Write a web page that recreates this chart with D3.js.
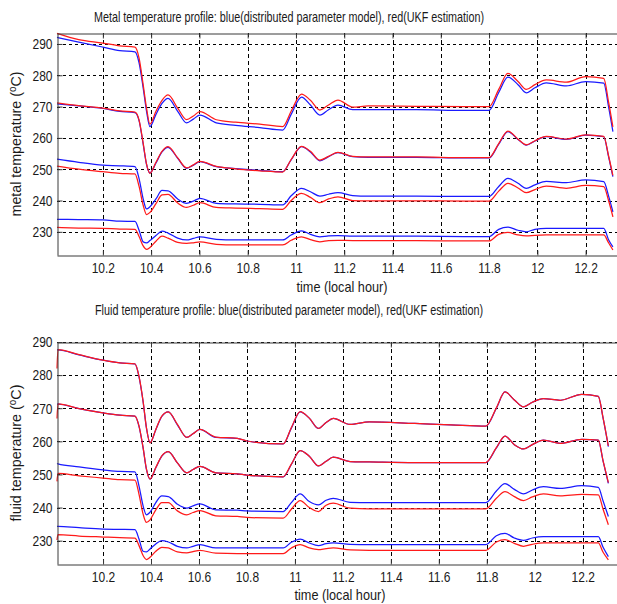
<!DOCTYPE html>
<html>
<head>
<meta charset="utf-8">
<script src="https://cdn.jsdelivr.net/npm/d3@7"></script>
<style>
  body { margin: 0; background: #fff; }
  svg { display: block; }
  text { font-family: "Liberation Sans", Arial, sans-serif; fill: #1a1a1a; }
</style>
</head>
<body>
<svg id="fig" width="617" height="604"></svg>
<script>
// ---- metal temperature profile (local hour, degC) ----
const metalTime = [10.01, 10.1, 10.2, 10.27, 10.333, 10.35, 10.367, 10.381, 10.395, 10.42, 10.445, 10.47, 10.51, 10.547, 10.575, 10.602, 10.67, 10.75, 10.85, 10.945, 10.98, 11.023, 11.06, 11.099, 11.135, 11.174, 11.235, 11.3, 11.5, 11.7, 11.8, 11.84, 11.878, 11.92, 11.954, 11.99, 12.037, 12.12, 12.2, 12.275, 12.295, 12.313];

const metalModel1 = [292.1, 290.6, 289.0, 287.9, 287.5, 284.0, 276.0, 268.5, 263.6, 267.5, 271.0, 272.6, 268.5, 264.8, 266.0, 267.3, 264.8, 264.0, 263.3, 262.5, 267.5, 273.0, 270.5, 267.3, 269.0, 270.5, 269.0, 269.0, 269.0, 268.8, 268.8, 274.5, 279.4, 277.0, 274.4, 276.0, 277.6, 276.6, 278.0, 277.5, 270.0, 262.0];
const metalUKF1   = [293.4, 291.4, 290.3, 289.4, 289.0, 285.5, 277.0, 269.5, 264.4, 268.5, 272.0, 273.7, 269.5, 265.8, 267.0, 268.4, 265.8, 265.0, 264.4, 263.6, 268.5, 274.0, 272.0, 268.9, 270.5, 272.1, 269.8, 270.2, 270.1, 270.0, 270.0, 275.5, 280.6, 278.0, 275.5, 277.0, 278.5, 277.8, 279.6, 279.0, 271.5, 263.5];

const metalModel2 = [270.9, 270.2, 269.4, 268.5, 268.1, 265.5, 258.0, 251.5, 248.8, 252.0, 255.5, 257.0, 253.5, 250.3, 251.3, 252.4, 250.8, 250.2, 249.6, 249.2, 253.0, 257.2, 255.5, 252.7, 254.0, 255.3, 254.0, 253.8, 253.8, 253.6, 253.6, 258.0, 262.0, 259.5, 257.7, 259.0, 260.4, 259.5, 260.9, 260.4, 254.0, 247.6];
const metalUKF2   = [271.2, 270.3, 269.5, 268.6, 268.2, 265.7, 258.3, 251.6, 248.7, 252.2, 255.7, 257.2, 253.6, 250.4, 251.4, 252.5, 250.9, 250.1, 249.5, 249.1, 253.1, 257.3, 255.7, 252.9, 254.1, 255.4, 254.1, 253.9, 253.9, 253.7, 253.7, 258.2, 262.2, 259.6, 257.8, 259.1, 260.5, 259.6, 261.0, 260.5, 254.3, 248.0];

const metalModel3 = [253.2, 252.2, 251.3, 251.1, 250.8, 247.0, 240.5, 237.3, 238.0, 240.5, 243.2, 243.1, 240.5, 239.1, 239.8, 240.7, 239.1, 238.9, 238.8, 238.6, 241.5, 243.9, 242.8, 241.4, 242.0, 242.5, 241.6, 241.4, 241.4, 241.3, 241.3, 244.5, 247.1, 245.5, 243.9, 245.0, 246.1, 245.7, 246.6, 246.0, 241.5, 236.4];
const metalUKF3   = [251.0, 250.0, 249.2, 248.7, 248.5, 244.5, 238.5, 235.5, 236.2, 239.0, 241.8, 242.0, 239.2, 237.8, 238.5, 239.3, 237.8, 237.6, 237.4, 237.2, 240.0, 242.3, 241.0, 239.3, 240.5, 241.2, 240.0, 239.9, 239.9, 239.8, 239.8, 243.0, 245.5, 244.0, 242.5, 243.5, 244.6, 243.9, 244.8, 244.4, 240.0, 234.8];

const metalModel4 = [234.0, 233.9, 233.8, 233.4, 233.3, 230.5, 226.8, 226.5, 227.2, 228.8, 230.2, 229.6, 228.0, 227.4, 227.9, 228.4, 227.6, 227.4, 227.4, 227.4, 229.0, 230.3, 229.2, 228.4, 228.7, 228.8, 228.6, 228.6, 228.6, 228.5, 228.5, 230.8, 231.5, 230.5, 230.0, 230.8, 231.1, 231.1, 231.1, 231.1, 227.5, 225.2];
const metalUKF4   = [231.4, 231.2, 231.1, 230.9, 230.8, 228.5, 225.5, 224.4, 225.0, 227.0, 228.6, 228.0, 226.6, 226.3, 226.5, 226.8, 226.0, 225.8, 225.8, 225.8, 227.3, 228.4, 227.5, 226.8, 227.2, 227.3, 227.2, 227.2, 227.2, 227.1, 227.1, 229.2, 229.8, 229.0, 228.7, 228.9, 229.0, 229.0, 229.0, 229.0, 226.5, 224.2];

// ---- fluid temperature profile (local hour, degC) ----
const fluidTime = [10.008, 10.012, 10.1, 10.2, 10.27, 10.333, 10.35, 10.367, 10.381, 10.396, 10.42, 10.445, 10.472, 10.51, 10.549, 10.575, 10.604, 10.67, 10.76, 10.8, 10.951, 10.985, 11.022, 11.06, 11.098, 11.13, 11.16, 11.23, 11.31, 11.5, 11.65, 11.796, 11.84, 11.876, 11.915, 11.953, 11.99, 12.036, 12.106, 12.196, 12.265, 12.285, 12.307];

const fluidModel1 = [287.6, 287.6, 286.1, 284.5, 283.7, 283.4, 279.5, 272.0, 264.0, 259.6, 263.5, 267.5, 268.9, 265.0, 261.2, 262.3, 263.6, 261.2, 260.9, 260.1, 259.2, 264.0, 268.9, 267.0, 263.9, 265.7, 266.9, 265.1, 265.9, 265.4, 265.0, 264.6, 270.0, 274.9, 272.5, 270.4, 271.8, 272.9, 272.4, 274.2, 273.6, 267.0, 258.4];
const fluidUKF1   = [282.0, 287.7, 286.2, 284.5, 283.7, 283.4, 279.6, 272.1, 264.1, 259.5, 263.6, 267.6, 268.9, 265.1, 261.2, 262.3, 263.6, 261.3, 260.9, 260.1, 259.2, 264.1, 269.0, 267.0, 263.9, 265.7, 266.9, 265.1, 265.9, 265.4, 265.0, 264.6, 270.1, 274.9, 272.5, 270.4, 271.8, 272.9, 272.4, 274.2, 273.6, 267.1, 258.6];

const fluidModel2 = [271.2, 271.2, 269.9, 268.6, 267.9, 267.6, 264.5, 258.0, 251.5, 248.6, 252.0, 255.5, 256.9, 253.5, 250.5, 251.5, 252.4, 250.5, 250.2, 249.8, 249.3, 253.0, 257.2, 255.5, 252.6, 254.0, 255.2, 253.9, 253.8, 253.6, 253.6, 253.6, 258.0, 261.6, 259.0, 257.7, 259.0, 260.4, 259.4, 260.6, 260.4, 254.0, 247.3];
const fluidUKF2   = [266.9, 271.3, 269.9, 268.6, 267.9, 267.6, 264.6, 258.1, 251.6, 248.6, 252.1, 255.6, 256.9, 253.5, 250.5, 251.5, 252.4, 250.5, 250.2, 249.8, 249.3, 253.1, 257.2, 255.5, 252.6, 254.0, 255.2, 253.9, 253.8, 253.6, 253.6, 253.6, 258.1, 261.6, 259.0, 257.7, 259.0, 260.4, 259.4, 260.6, 260.4, 254.1, 247.5];

const fluidModel3 = [253.3, 253.2, 252.3, 251.4, 250.9, 250.8, 246.5, 240.5, 237.8, 238.6, 241.5, 243.5, 243.3, 241.0, 239.8, 240.5, 241.1, 239.3, 239.2, 239.0, 238.8, 241.5, 244.1, 241.8, 240.8, 242.2, 242.8, 241.6, 241.5, 241.5, 241.5, 241.5, 245.0, 247.2, 245.5, 244.1, 245.3, 246.3, 245.8, 246.6, 246.1, 242.0, 237.3];
const fluidUKF3   = [247.9, 250.3, 249.6, 248.9, 248.4, 248.3, 244.0, 238.0, 235.5, 236.3, 239.3, 241.5, 241.5, 239.0, 237.8, 238.5, 239.1, 237.5, 237.3, 237.0, 236.8, 239.5, 242.1, 240.0, 238.8, 240.7, 241.3, 239.8, 239.6, 239.6, 239.6, 239.6, 242.8, 244.8, 243.3, 242.1, 243.2, 244.1, 243.5, 244.0, 243.8, 239.5, 234.8];

const fluidModel4 = [234.3, 234.3, 233.9, 233.5, 233.4, 233.3, 230.5, 226.8, 226.6, 227.5, 229.0, 230.0, 229.6, 228.3, 227.8, 228.3, 228.8, 227.8, 227.8, 227.8, 227.8, 229.5, 230.5, 229.3, 228.5, 229.1, 229.3, 228.9, 228.8, 228.8, 228.8, 228.8, 231.5, 232.2, 230.8, 230.1, 230.8, 231.2, 231.2, 231.2, 231.2, 228.0, 225.2];
const fluidUKF4   = [230.2, 231.8, 231.4, 231.1, 230.9, 230.8, 228.5, 225.5, 224.3, 225.0, 226.8, 228.0, 227.8, 226.6, 226.3, 226.7, 227.1, 226.2, 226.1, 226.1, 226.1, 227.8, 228.8, 227.8, 227.3, 227.6, 227.8, 227.2, 227.1, 227.1, 227.1, 227.1, 229.6, 230.3, 229.2, 228.3, 228.9, 229.3, 229.3, 229.3, 229.3, 226.5, 224.2];

// ---- ticks ----
const tempTicks = [230, 240, 250, 260, 270, 280, 290];
const hourTicks = [10.2, 10.4, 10.6, 10.8, 11.0, 11.2, 11.4, 11.6, 11.8, 12.0, 12.2];
const hourTickLabels = ["10.2", "10.4", "10.6", "10.8", "11", "11.2", "11.4", "11.6", "11.8", "12", "12.2"];

const MODEL_COLOR = "#1a1aff";
const UKF_COLOR = "#ff1a1a";

const svg = d3.select("#fig");

// narrow the rendered glyphs horizontally (condensed axis labels)
function squeeze(sel, k) {
  sel.each(function () {
    const w = this.getComputedTextLength();
    d3.select(this).attr("textLength", w * k).attr("lengthAdjust", "spacingAndGlyphs");
  });
}

function drawPanel(p) {
  const g = svg.append("g");
  const x = d3.scaleLinear().domain(p.xDomain).range([p.left, p.right]);
  const y = d3.scaleLinear().domain(p.yDomain).range([p.bottom, p.top]);

  // dotted grid
  g.append("g").selectAll("line").data(tempTicks).join("line")
    .attr("x1", p.left).attr("x2", p.right)
    .attr("y1", d => Math.round(y(d)) + 0.5).attr("y2", d => Math.round(y(d)) + 0.5)
    .attr("stroke", "#000").attr("stroke-width", 1).attr("stroke-dasharray", "3,3");
  g.append("g").selectAll("line").data(hourTicks).join("line")
    .attr("x1", d => Math.round(x(d)) + 0.5).attr("x2", d => Math.round(x(d)) + 0.5)
    .attr("y1", p.top).attr("y2", p.bottom)
    .attr("stroke", "#000").attr("stroke-width", 1).attr("stroke-dasharray", "4,3");

  // series: model (blue) under UKF estimate (red)
  const line = d3.line()
    .x((d, i) => x(p.time[i]))
    .y(d => y(d))
    .curve(d3.curveMonotoneX);
  p.pairs.forEach(([model, ukf]) => {
    g.append("path").datum(model).attr("d", line)
      .attr("fill", "none").attr("stroke", MODEL_COLOR).attr("stroke-width", 1.25);
    g.append("path").datum(ukf).attr("d", line)
      .attr("fill", "none").attr("stroke", UKF_COLOR).attr("stroke-width", 1.25);
  });

  // axes with inward ticks
  const yAxis = d3.axisLeft(y).tickValues(tempTicks).tickSizeInner(-5).tickSizeOuter(0).tickPadding(5).tickFormat(d3.format("d"));
  const xAxis = d3.axisBottom(x).tickValues(hourTicks).tickSizeInner(-5).tickSizeOuter(0).tickPadding(7)
    .tickFormat((d, i) => hourTickLabels[i]);
  const xTop = d3.axisTop(x).tickValues(hourTicks).tickSizeInner(-5).tickSizeOuter(0).tickFormat("");

  const ya = g.append("g").attr("transform", `translate(${p.left + 0.5},0)`).call(yAxis);
  const xa = g.append("g").attr("transform", `translate(0,${p.bottom + 0.5})`).call(xAxis);
  const xt = g.append("g").attr("transform", `translate(0,${p.top + 0.5})`).call(xTop);

  [ya, xa, xt].forEach(a => {
    a.select(".domain").attr("stroke", "#3a3a3a");
    a.selectAll(".tick line").attr("stroke", "#3a3a3a");
    a.selectAll("text").attr("font-family", "Liberation Sans, Arial, sans-serif")
      .attr("font-size", 15).attr("fill", "#1a1a1a");
  });
  squeeze(ya.selectAll(".tick text"), 0.8);
  squeeze(xa.selectAll(".tick text"), 0.8);

  // title
  svg.append("text").attr("x", p.titleX).attr("y", p.titleY)
    .attr("text-anchor", "middle").attr("font-size", 14.5)
    .attr("textLength", p.titleW).attr("lengthAdjust", "spacingAndGlyphs")
    .text(p.title);

  // x label
  svg.append("text").attr("x", p.xLabelX).attr("y", p.xLabelY)
    .attr("text-anchor", "middle").attr("font-size", 14.5)
    .attr("textLength", 91).attr("lengthAdjust", "spacingAndGlyphs")
    .text("time (local hour)");

  // y label with raised degree "o"
  const yl = svg.append("text")
    .attr("transform", `translate(21,${p.yLabelY}) rotate(-90)`)
    .attr("text-anchor", "middle").attr("font-size", 14.5)
    .attr("textLength", p.yLabelW).attr("lengthAdjust", "spacingAndGlyphs");
  yl.append("tspan").text(p.yLabel + " (");
  yl.append("tspan").attr("dy", -5).attr("font-size", 10).text("o");
  yl.append("tspan").attr("dy", 5).text("C)");
}

drawPanel({
  left: 57, right: 617, top: 33, bottom: 255,
  xDomain: [10.01, 12.33], yDomain: [222.6, 293.5],
  time: metalTime,
  pairs: [[metalModel1, metalUKF1], [metalModel2, metalUKF2], [metalModel3, metalUKF3], [metalModel4, metalUKF4]],
  title: "Metal temperature profile: blue(distributed parameter model), red(UKF estimation)",
  titleX: 289, titleY: 22, titleW: 390,
  xLabelX: 342, xLabelY: 292,
  yLabel: "metal temperature", yLabelY: 144, yLabelW: 145
});

drawPanel({
  left: 57, right: 617, top: 342, bottom: 564,
  xDomain: [10.008, 12.343], yDomain: [222.95, 290],
  time: fluidTime,
  pairs: [[fluidModel1, fluidUKF1], [fluidModel2, fluidUKF2], [fluidModel3, fluidUKF3], [fluidModel4, fluidUKF4]],
  title: "Fluid temperature profile: blue(distributed parameter model), red(UKF estimation)",
  titleX: 289, titleY: 315, titleW: 388,
  xLabelX: 340, xLabelY: 600,
  yLabel: "fluid temperature", yLabelY: 453, yLabelW: 137
});
</script>
</body>
</html>
